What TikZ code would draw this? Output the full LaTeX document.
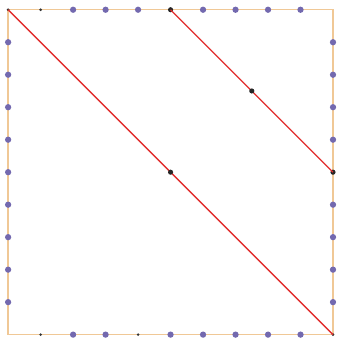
\documentclass[tikz,border=0pt]{standalone}
\usepackage{tikz}
\usetikzlibrary{positioning}

\definecolor{edgetan}{RGB}{240,200,150}
\definecolor{dotpurple}{RGB}{115,105,175}
\definecolor{segred}{RGB}{225,45,45}

\tikzset{
  gridpt/.style={circle, fill=dotpurple, inner sep=0pt, minimum size=5.5pt},
  tinypt/.style={circle, fill=black!80, inner sep=0pt, minimum size=2.5pt},
  keypt/.style={circle, fill=black!85, inner sep=0pt, minimum size=4.5pt},
  border/.style={draw=edgetan, line width=1.2pt},
  segment/.style={draw=segred, line width=1.1pt}
}

\begin{document}
\begin{tikzpicture}
\useasboundingbox (-0.25,-0.35) rectangle (10.25,10.3);
% square frame
\draw[border] (0,0) rectangle (10,10);
% corner points
\coordinate (sw) at (0,0);
\coordinate (ne) at (10,10);
\node[tinypt] (nw) at (0,10) {};
\node[tinypt] (se) at (10,0) {};
% points along the left and right sides
\foreach \y in {1,...,9} {
  \node[gridpt] (l\y) at (0,\y) {};
}
\foreach \y in {1,2,3,4,6,7,8,9} {
  \node[gridpt] (r\y) at (10,\y) {};
}
% points along the top
\foreach \x in {2,3,4,6,7,8,9} {
  \node[gridpt] (t\x) at (\x,10) {};
}
\node[tinypt] (t1) at (1,10) {};
% points along the bottom
\foreach \x in {2,3,5,6,7,8,9} {
  \node[gridpt] (b\x) at (\x,0) {};
}
\node[tinypt] (b1) at (1,0) {};
\node[tinypt] (b4) at (4,0) {};
% red segments
\node[keypt] (t5) at (5,10) {};
\node[keypt] (r5) at (10,5) {};
\draw[segment] (nw.center) -- (se.center);
\draw[segment] (t5.center) -- (r5.center);
% midpoints on the segments
\node[keypt] (m1) at (5,5) {};
\node[keypt] (m2) at (7.5,7.5) {};
\end{tikzpicture}
\end{document}
